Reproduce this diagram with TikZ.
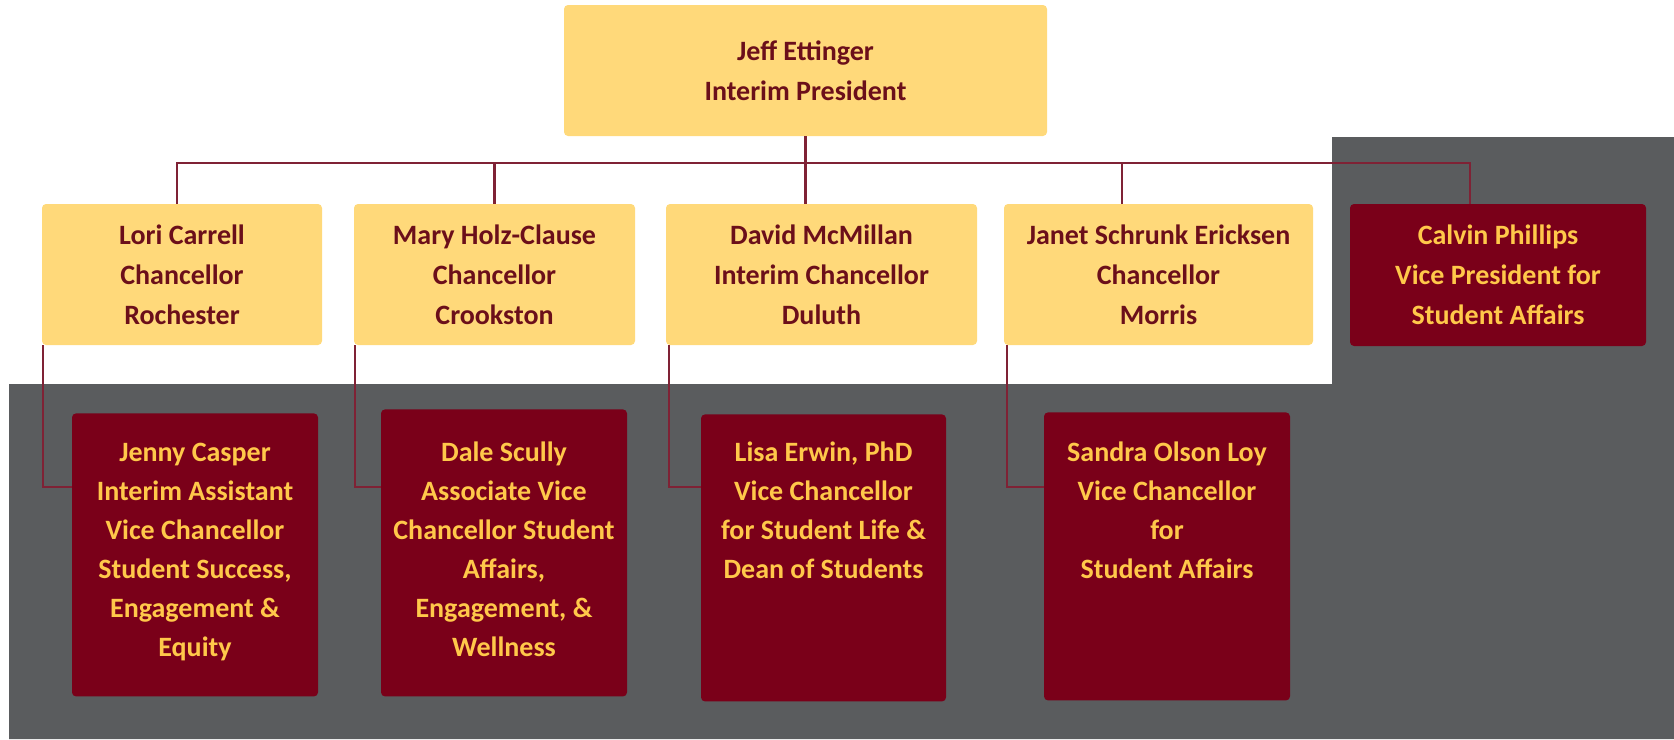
\documentclass[tikz,border=0pt]{standalone}
\usepackage{fontspec}
\setmainfont{Carlito}
\definecolor{umgold}{HTML}{FFD97A}
\definecolor{ummaroon}{HTML}{7A0019}
\definecolor{umpanel}{HTML}{5A5C5E}
\definecolor{umdark}{HTML}{6B0F1A}
\definecolor{umgoldtext}{HTML}{FFC84A}
\definecolor{umline}{HTML}{7F2235}
\begin{document}
\begin{tikzpicture}[x=0.5pt,y=-0.5pt,
  base/.style={rectangle, rounded corners=2pt, inner sep=0pt, align=center,
    font=\bfseries\fontsize{14}{20}\selectfont},
  goldbox/.style={base, fill=umgold, text=umdark},
  maroonbox/.style={base, fill=ummaroon, text=umgoldtext},
  subbox/.style={maroonbox, anchor=north, font=\bfseries\fontsize{14}{19.5}\selectfont},
  link/.style={draw=umline, line width=1.1pt}]
\useasboundingbox (0,0) rectangle (1674,739);

% grey backdrop behind the student-affairs positions
\fill[umpanel] (9,384) -- (1332,384) -- (1332,137) -- (1674,137) -- (1674,739) -- (9,739) -- cycle;

% president
\node[goldbox, minimum width=241.5pt, minimum height=65.5pt] (top) at (805.5,70.5)
  {Jeff Ettinger\\Interim President};

% chancellors and vice president
\node[goldbox, minimum width=140pt, minimum height=70.5pt] (lori) at (182,274.5)
  {Lori Carrell\\Chancellor\\Rochester};
\node[goldbox, minimum width=140.5pt, minimum height=70.5pt] (mary) at (494.5,274.5)
  {Mary Holz-Clause\\Chancellor\\Crookston};
\node[goldbox, minimum width=155.5pt, minimum height=70.5pt] (david) at (821.5,274.5)
  {David McMillan\\Interim Chancellor\\Duluth};
\node[goldbox, minimum width=154.5pt, minimum height=70.5pt] (janet) at (1158.5,274.5)
  {Janet Schrunk Ericksen\\Chancellor\\Morris};
\node[maroonbox, minimum width=148pt, minimum height=71pt] (calvin) at (1498,275)
  {Calvin Phillips\\Vice President for\\Student Affairs};

% campus student-affairs leads
\node[subbox] (jenny) at (195,413)
  {\parbox[t][141.5pt][t]{123pt}{\centering\rule{0pt}{24pt}Jenny Casper\\Interim Assistant\\Vice Chancellor\\Student Success,\\Engagement \&\\Equity}};
\node[subbox] (dale) at (504,409)
  {\parbox[t][143.5pt][t]{123pt}{\centering\rule{0pt}{26pt}Dale Scully\\Associate Vice\\Chancellor Student\\Affairs,\\Engagement, \&\\Wellness}};
\node[subbox] (lisa) at (823.5,414)
  {\parbox[t][143.5pt][t]{122.5pt}{\centering\rule{0pt}{23.5pt}Lisa Erwin, PhD\\Vice Chancellor\\for Student Life \&\\Dean of Students}};
\node[subbox] (sandra) at (1167,412)
  {\parbox[t][144pt][t]{123pt}{\centering\rule{0pt}{24.5pt}Sandra Olson Loy\\Vice Chancellor\\for\\Student Affairs}};

% reporting lines
\coordinate (bus) at (0,163);
\coordinate (elbow) at (0,487);
\coordinate (loriDrop) at ([xshift=-2.5pt]lori.north);
\coordinate (janetDrop) at ([xshift=-18.25pt]janet.north);
\coordinate (calvinDrop) at ([xshift=-14pt]calvin.north);
\draw[link] (top.south) -- (top.south |- david.north);
\draw[link] (loriDrop) |- (calvinDrop |- bus) -- (calvinDrop);
\draw[link] (mary.north |- bus) -- (mary.north);
\draw[link] (janetDrop |- bus) -- (janetDrop);

\draw[link] ([xshift=0.7pt]lori.south west) |- (jenny.west |- elbow);
\draw[link] ([xshift=0.7pt]mary.south west) |- (dale.west |- elbow);
\draw[link] ([xshift=1.5pt]david.south west) |- (lisa.west |- elbow);
\draw[link] ([xshift=1.5pt]janet.south west) |- (sandra.west |- elbow);
\end{tikzpicture}
\end{document}
